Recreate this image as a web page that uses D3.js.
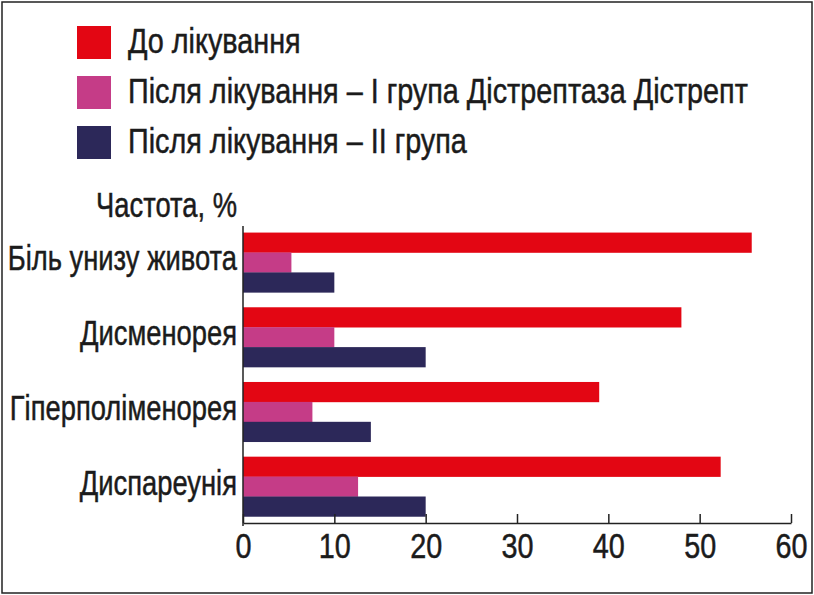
<!DOCTYPE html>
<html>
<head>
<meta charset="utf-8">
<script src="https://cdn.jsdelivr.net/npm/d3@7"></script>
<style>
  html, body { margin: 0; padding: 0; background: #fff; }
  svg text { font-family: "Liberation Sans", Arial, sans-serif; fill: #1b1b1b; stroke: #1b1b1b; stroke-width: 0.5px; }
</style>
</head>
<body>
<svg id="chart" width="814" height="595"></svg>
<script>
// chart data
var categories = ["Біль унизу живота", "Дисменорея", "Гіперполіменорея", "Диспареунія"];
var seriesNames = ["До лікування", "Після лікування – І група Дістрептаза Дістрепт", "Після лікування – ІІ група"];
var beforeTreatment = [55.7, 48, 39, 52.3];
var afterGroup1 = [5.3, 10, 7.6, 12.6];
var afterGroup2 = [10, 20, 14, 20];
var xTicks = [0, 10, 20, 30, 40, 50, 60];
var axisTitle = "Частота, %";

var colors = ["#e30613", "#c53c87", "#2c2859"];
var seriesValues = [beforeTreatment, afterGroup1, afterGroup2];

var svg = d3.select("#chart");
var fontSize = 36;

// the original face is condensed, so squeeze the text sideways
function place(sel, px, py, k) {
    sel.attr("transform", function(d, i) {
        var xx = typeof px === "function" ? px(d, i) : px;
        var yy = typeof py === "function" ? py(d, i) : py;
        return "translate(" + xx + "," + yy + ") scale(" + k + ",1)";
    });
}

// frame
svg.append("rect")
    .attr("x", 2).attr("y", 2)
    .attr("width", 810).attr("height", 591)
    .attr("fill", "none")
    .attr("stroke", "#222")
    .attr("stroke-width", 1.5);

// legend
var legend = svg.append("g").attr("transform", "translate(77,26)");
seriesNames.forEach(function(name, i) {
    var row = legend.append("g").attr("transform", "translate(0," + (i * 50) + ")");
    row.append("rect")
        .attr("width", 34).attr("height", 33)
        .attr("fill", colors[i]);
    row.append("text")
        .style("font-size", fontSize + "px")
        .call(place, 51, 27, 0.8)
        .text(name);
});

// scales
var x = d3.scaleLinear().domain([0, 60]).range([243, 791]);
var y0 = d3.scaleBand().domain(categories).range([226, 523])
    .paddingInner(0.2).paddingOuter(0.088);
var y1 = d3.scaleBand().domain([0, 1, 2]).range([0, y0.bandwidth()]);

// bars
var rows = categories.map(function(c, ci) {
    return { cat: c, values: seriesValues.map(function(s, si) { return { s: si, v: s[ci] }; }) };
});

var group = svg.append("g").selectAll("g")
    .data(rows)
    .join("g")
    .attr("transform", function(d) { return "translate(0," + y0(d.cat) + ")"; });

group.selectAll("rect")
    .data(function(d) { return d.values; })
    .join("rect")
    .attr("x", x(0))
    .attr("y", function(d) { return y1(d.s); })
    .attr("height", y1.bandwidth() + 0.3)
    .attr("width", function(d) { return x(d.v) - x(0); })
    .attr("fill", function(d) { return colors[d.s]; });

// category labels
svg.append("g").selectAll("text")
    .data(categories)
    .join("text")
    .attr("text-anchor", "end")
    .style("font-size", fontSize + "px")
    .call(place, 237, function(d) { return y0(d) + y0.bandwidth() / 2 + 8; }, 0.76)
    .text(function(d) { return d; });

// axis title
svg.append("text")
    .attr("text-anchor", "end")
    .style("font-size", fontSize + "px")
    .call(place, 237, 217, 0.76)
    .text(axisTitle);

// x axis
var xAxis = svg.append("g")
    .attr("transform", "translate(0,523)")
    .call(d3.axisBottom(x).tickValues(xTicks).tickSize(-9).tickPadding(9.5).tickSizeOuter(0));
xAxis.select(".domain").attr("stroke", "#222").attr("stroke-width", 1.5);
xAxis.selectAll(".tick line").attr("stroke", "#222").attr("stroke-width", 1.5);
xAxis.selectAll(".tick text")
    .style("font-size", "36px")
    .attr("transform", "scale(0.8,1)")
    .attr("fill", "#1b1b1b");

// y axis line
svg.append("line")
    .attr("x1", x(0)).attr("x2", x(0))
    .attr("y1", 226).attr("y2", 526)
    .attr("stroke", "#222")
    .attr("stroke-width", 1.5);
</script>
</body>
</html>
